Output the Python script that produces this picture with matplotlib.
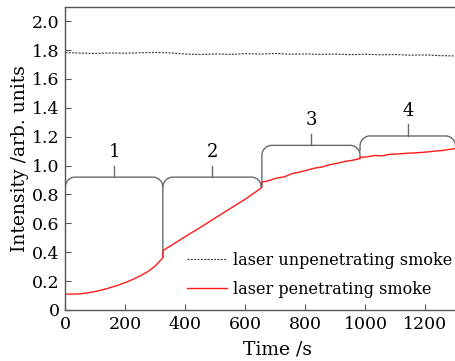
import numpy as np
import matplotlib
matplotlib.use("Agg")
import matplotlib.pyplot as plt
from matplotlib.path import Path
from matplotlib.patches import PathPatch
from matplotlib.ticker import FuncFormatter

# ---- data ----
ref_t = [0, 50, 100, 150, 200, 250, 300, 350, 400, 450, 500, 550, 600, 650,
         700, 750, 800, 850, 900, 950, 1000, 1050, 1100, 1150, 1200, 1250, 1300]
ref_i = [1.782, 1.779, 1.776, 1.780, 1.778, 1.781, 1.783, 1.780, 1.772, 1.769,
         1.773, 1.770, 1.775, 1.772, 1.776, 1.771, 1.773, 1.770, 1.772, 1.768,
         1.771, 1.767, 1.769, 1.764, 1.766, 1.761, 1.759]

pen_t = [0, 25, 50, 75, 100, 125, 150, 175, 200, 225, 250, 275, 300, 325,
         325, 350, 400, 450, 500, 550, 600, 625, 653,
         655, 680, 705, 730, 755, 780, 805, 830, 855, 880, 905, 930, 955, 982,
         982, 1005, 1030, 1055, 1080, 1105, 1130, 1155, 1180, 1205, 1230, 1255, 1280, 1300]
pen_i = [0.110, 0.110, 0.112, 0.119, 0.128, 0.140, 0.155, 0.171, 0.190, 0.212, 0.237, 0.266, 0.305, 0.362,
         0.412, 0.443, 0.509, 0.572, 0.638, 0.703, 0.768, 0.804, 0.845,
         0.885, 0.897, 0.914, 0.922, 0.944, 0.955, 0.968, 0.982, 0.990, 1.006, 1.015, 1.028, 1.036, 1.048,
         1.058, 1.060, 1.070, 1.067, 1.078, 1.080, 1.084, 1.087, 1.090, 1.094, 1.100, 1.104, 1.112, 1.118]

stage_labels = ["1", "2", "3", "4"]
stage_start = [0, 325, 655, 982]
stage_end = [325, 653, 982, 1300]
stage_top = [0.92, 0.92, 1.14, 1.205]
stage_left_low = [0.851, 0.851, 0.848, 1.10]
stage_right_low = [0.362, 0.845, 1.048, 1.125]

x_ticks = [0, 200, 400, 600, 800, 1000, 1200]
y_ticks = [0, 0.2, 0.4, 0.6, 0.8, 1.0, 1.2, 1.4, 1.6, 1.8, 2.0]

plt.rcParams['font.family'] = ['DejaVu Serif']
fig = plt.figure(figsize=(4.56, 3.61), dpi=100)
ax = fig.add_axes([65.3/456, 1-310/361, (455.5-65.3)/456, (310-6.7)/361])

ax.plot(ref_t, ref_i, color='#333333', lw=0.8, ls=(0, (1.8, 1.2)),
        label='laser unpenetrating smoke')
ax.plot(pen_t, pen_i, color='#ff1a1a', lw=1.0, label='laser penetrating smoke')

ax.set_xlim(0, 1300)
ax.set_ylim(0, 2.1)

# bracket geometry in data units (corner radius ~10 px)
rx, ry = 33.0, 0.069
k = 0.5523
bcol = '#6a6a6a'
for lab, x0, x1, yh, yl, yr in zip(stage_labels, stage_start, stage_end,
                                    stage_top, stage_left_low, stage_right_low):
    verts = [(x0, yl), (x0, yh - ry),
             (x0, yh - ry + k*ry), (x0 + rx - k*rx, yh), (x0 + rx, yh),
             (x1 - rx, yh),
             (x1 - rx + k*rx, yh), (x1, yh - ry + k*ry), (x1, yh - ry),
             (x1, yr)]
    codes = [Path.MOVETO, Path.LINETO,
             Path.CURVE4, Path.CURVE4, Path.CURVE4,
             Path.LINETO,
             Path.CURVE4, Path.CURVE4, Path.CURVE4,
             Path.LINETO]
    ax.add_patch(PathPatch(Path(verts, codes), fill=False, ec=bcol, lw=1.0))
    xc = (x0 + x1) / 2
    ax.plot([xc, xc], [yh, yh + 0.08], color=bcol, lw=1.0)
    ax.text(xc, yh + 0.08 + 0.095, lab, ha='center', va='center', fontsize=13)

ax.set_xticks(x_ticks)
ax.set_yticks(y_ticks)
ax.yaxis.set_major_formatter(FuncFormatter(lambda v, p: '0' if abs(v) < 1e-9 else f'{v:.1f}'))
ax.tick_params(direction='in', length=4, width=0.8, color='#555555', labelsize=12.5, pad=4)
for s in ['top', 'left', 'bottom']:
    ax.spines[s].set_color('#555555')
    ax.spines[s].set_linewidth(1.0)
ax.spines['right'].set_visible(False)

ax.set_xlabel('Time /s', fontsize=13.5)
ax.xaxis.set_label_coords(0.543, -0.102)
ax.set_ylabel('Intensity /arb. units', fontsize=13.5, labelpad=2)

ax.legend(loc='center right', bbox_to_anchor=(0.991, 0.117), frameon=False,
          fontsize=11.5, handlelength=2.5, handletextpad=0.35, labelspacing=0.75,
          borderaxespad=0.0, borderpad=0.0)

fig.savefig('out.png', dpi=100)
